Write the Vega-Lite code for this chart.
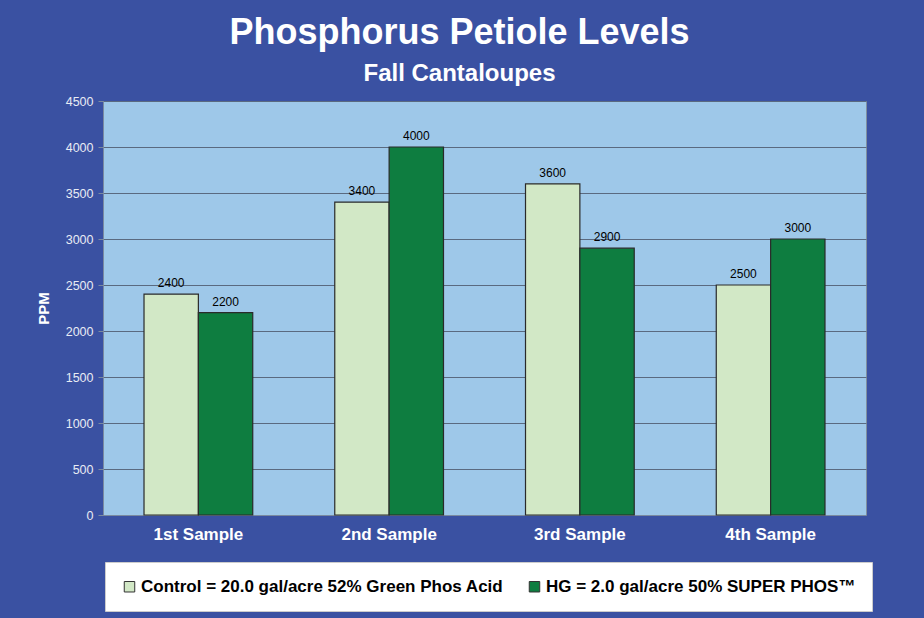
{
  "$schema": "https://vega.github.io/schema/vega-lite/v6.json",
  "width": 763,
  "height": 414,
  "autosize": {"type": "none"},
  "padding": {"left": 103, "top": 101, "right": 58, "bottom": 103},
  "background": "#3a51a2",
  "title": {
    "text": "Phosphorus Petiole Levels",
    "subtitle": "Fall Cantaloupes",
    "color": "white",
    "subtitleColor": "white",
    "font": "Liberation Sans",
    "subtitleFont": "Liberation Sans",
    "fontSize": 36,
    "fontWeight": "bold",
    "subtitleFontSize": 24,
    "subtitleFontWeight": "bold",
    "subtitlePadding": 10,
    "anchor": "middle",
    "dx": -25,
    "offset": 8
  },
  "data": {
    "values": [
      {"sample": "1st Sample", "treatment": "Control = 20.0 gal/acre 52% Green Phos Acid", "ppm": 2400},
      {"sample": "1st Sample", "treatment": "HG = 2.0 gal/acre 50% SUPER PHOS™", "ppm": 2200},
      {"sample": "2nd Sample", "treatment": "Control = 20.0 gal/acre 52% Green Phos Acid", "ppm": 3400},
      {"sample": "2nd Sample", "treatment": "HG = 2.0 gal/acre 50% SUPER PHOS™", "ppm": 4000},
      {"sample": "3rd Sample", "treatment": "Control = 20.0 gal/acre 52% Green Phos Acid", "ppm": 3600},
      {"sample": "3rd Sample", "treatment": "HG = 2.0 gal/acre 50% SUPER PHOS™", "ppm": 2900},
      {"sample": "4th Sample", "treatment": "Control = 20.0 gal/acre 52% Green Phos Acid", "ppm": 2500},
      {"sample": "4th Sample", "treatment": "HG = 2.0 gal/acre 50% SUPER PHOS™", "ppm": 3000}
    ]
  },
  "encoding": {
    "x": {
      "field": "sample", "type": "nominal", "sort": null,
      "scale": {"paddingInner": 0.43, "paddingOuter": 0.215},
      "axis": {
        "title": null, "labelAngle": 0, "labelColor": "white", "labelFont": "Liberation Sans",
        "labelFontSize": 17, "labelFontWeight": "bold", "labelPadding": 11,
        "ticks": false, "domainColor": "#7a8aa0", "domainWidth": 1
      }
    },
    "xOffset": {"field": "treatment", "type": "nominal", "sort": null},
    "y": {
      "field": "ppm", "type": "quantitative",
      "scale": {"domain": [0, 4500], "nice": false},
      "axis": {
        "title": "PPM", "titleColor": "white", "titleFont": "Liberation Sans", "titleFontSize": 15,
        "titleFontWeight": "bold", "titlePadding": 14,
        "values": [0, 500, 1000, 1500, 2000, 2500, 3000, 3500, 4000, 4500],
        "format": "d",
        "labelColor": "#e8ecf4", "labelFont": "Liberation Sans", "labelFontSize": 12.5,
        "labelPadding": 5, "tickColor": "#7a8aa0", "tickSize": 5,
        "domainColor": "#7a8aa0",
        "grid": true, "gridColor": "#5a6a80", "gridWidth": 1
      }
    }
  },
  "layer": [
    {
      "mark": {"type": "bar", "stroke": "#2a2a2a", "strokeWidth": 1.2},
      "encoding": {
        "color": {
          "field": "treatment", "type": "nominal", "sort": null,
          "scale": {"range": ["#d2e8c6", "#0e7d40"]},
          "legend": {
            "title": null, "orient": "none", "direction": "horizontal",
            "legendX": 2, "legendY": 461,
            "fillColor": "white", "strokeColor": "#cccccc", "padding": 16,
            "labelFont": "Liberation Sans", "labelFontSize": 17, "labelFontWeight": "bold",
            "labelColor": "black", "labelLimit": 500,
            "symbolType": "square", "symbolSize": 110, "symbolStrokeColor": "#333333",
            "symbolStrokeWidth": 1, "symbolOpacity": 1,
            "columnPadding": 22, "labelOffset": 3
          }
        }
      }
    },
    {
      "mark": {"type": "text", "dy": -11, "font": "Liberation Sans", "fontSize": 12, "color": "black"},
      "encoding": {"text": {"field": "ppm", "type": "quantitative"}}
    }
  ],
  "config": {
    "view": {"fill": "#9ec8e9", "stroke": "#8090a0"}
  }
}
